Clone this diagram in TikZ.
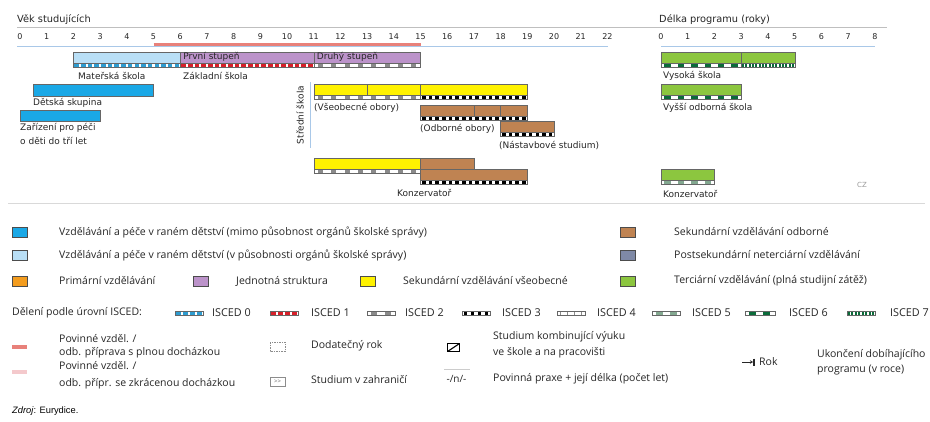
\documentclass[tikz,border=0pt]{standalone}
\usepackage{fontspec}
\setmainfont{DejaVu Sans}
\newfontfamily\legfont{Open Sans}
\newfontfamily\srcfont{Liberation Sans}
\usetikzlibrary{arrows.meta}
\definecolor{ecdark}{HTML}{1AA8E6}
\definecolor{eclight}{HTML}{B9DFF6}
\definecolor{purp}{HTML}{BC93CA}
\definecolor{yel}{HTML}{FFF200}
\definecolor{brn}{HTML}{BF8352}
\definecolor{grn}{HTML}{8CC63F}
\definecolor{orng}{HTML}{F39C1E}
\definecolor{slate}{HTML}{7F89A6}
\definecolor{salmon}{HTML}{E8817A}
\definecolor{pinkl}{HTML}{F4C9CC}
\definecolor{axblue}{HTML}{A9C8E8}
\definecolor{isa}{HTML}{2E9CD0}
\definecolor{isb}{HTML}{D7202A}
\definecolor{isc}{HTML}{8A8A8A}
\definecolor{ise}{HTML}{83A890}
\definecolor{isf}{HTML}{0B6B3A}
\newcommand\ebar[4]{\filldraw[fill=#4, bord] ({#1},#3) rectangle ({#2},#3+11);}
\newcommand\iscedstrip[6]{%
  \pgfmathsetmacro\sxa{#1}\pgfmathsetmacro\sxb{#2}%
  \pgfmathsetmacro\sn{int((\sxb-\sxa)/#5)}%
  \begin{scope}
    \clip (\sxa,#3) rectangle (\sxb,#3+4);
    \fill[white] (\sxa,#3) rectangle (\sxb,#3+4);
    \foreach \k in {0,...,\sn} {\fill[#4] ({\sxa+\k*#5+(#5-#6)/2},#3) rectangle ++(#6,4);}
  \end{scope}
  \draw[bord] (\sxa,#3) rectangle (\sxb,#3+4);}
\begin{document}
\begin{tikzpicture}[x=1pt,y=-1pt,
  declare function={ag(\a)=20+26.7*\a; dl(\a)=661+26.75*\a;},
  bord/.style={draw=black!60, line width=0.4pt},
  lbl/.style={font=\fontsize{9}{10.8}\selectfont, inner sep=0pt, anchor=west, text=black!85},
  tick/.style={font=\fontsize{8}{9.6}\selectfont, inner sep=0pt, text=black!85},
  leg/.style={font=\legfont\fontsize{10.5}{12.6}\selectfont, inner sep=0pt, anchor=west, text=black!85},
  isl/.style={leg, font=\legfont\fontsize{10.8}{13}\selectfont},
  legbox/.style={draw=black!70, line width=0.5pt}]
\fill[white] (0,0) rectangle (930,421);
\useasboundingbox (0,0) rectangle (930,421);
% headers
\node[lbl, font=\fontsize{9.8}{11.8}\selectfont] (hage) at (17,20) {Věk studujících};
\node[lbl, font=\fontsize{9.8}{11.8}\selectfont] (hdur) at (659,20) {Délka programu (roky)};
\draw[black!25, line width=0.5pt] (17,27) -- (887,27);
\foreach \i in {0,...,22} \node[tick] (ta\i) at ({ag(\i)},37) {\i};
\foreach \i in {0,...,8} \node[tick] (tb\i) at ({dl(\i)},37) {\i};
\draw[axblue, line width=0.8pt] (17,46.5) -- (608,46.5);
\draw[salmon, line width=3pt] ({ag(5)},44.5) -- ({ag(15)},44.5);
\draw[axblue, line width=0.8pt] (661,46) -- (875,46);
% row 1
\ebar{ag(2)}{ag(6)}{52}{eclight}
\ebar{ag(6)}{ag(15)}{52}{purp}
\draw[bord] ({ag(11)},52) -- ({ag(11)},63);
\iscedstrip{ag(2)}{ag(6)}{63}{isa}{6.675}{4.6}
\iscedstrip{ag(6)}{ag(11)}{63}{isb}{6.675}{4.6}
\iscedstrip{ag(11)}{ag(15)}{63}{isc}{13.35}{5}
\node[lbl] (pst) at ({ag(6)+3},57) {První stupeň};
\node[lbl] (dst) at ({ag(11)+3},57) {Druhý stupeň};
\node[lbl] (ms) at (78,76) {Mateřská škola};
\node[lbl] (zs) at (183,76) {Základní škola};
\ebar{dl(0)}{dl(5)}{52}{grn}
\draw[bord] ({dl(3)},52) -- ({dl(3)},63);
\iscedstrip{dl(0)}{dl(3)}{63}{isf}{13.375}{6.5}
\iscedstrip{dl(3)}{dl(5)}{63}{isf}{3.34}{2}
\node[lbl] (vs) at (663,76) {Vysoká škola};
% early childhood
\filldraw[fill=ecdark, bord] ({ag(0.5)},84) rectangle ({ag(5)},96);
\node[lbl] (dsk) at (33,103) {Dětská skupina};
\filldraw[fill=ecdark, bord] ({ag(0)},110) rectangle ({ag(3)},121);
\node[lbl] (zp1) at (20,128) {Zařízení pro péči};
\node[lbl] (zp2) at (20,141) {o děti do tří let};
% secondary
\node[lbl, anchor=center, rotate=90] (ss) at (300,115) {Střední škola};
\draw[axblue, line width=0.9pt] (310,82) -- (310,148);
\ebar{ag(11)}{ag(19)}{84}{yel}
\draw[bord] ({ag(13)},84) -- ({ag(13)},95) ({ag(15)},84) -- ({ag(15)},95);
\iscedstrip{ag(11)}{ag(15)}{95}{isc}{13.35}{5}
\iscedstrip{ag(15)}{ag(19)}{95}{black}{6.675}{3.6}
\node[lbl] (vo) at (314,108) {(Všeobecné obory)};
\ebar{ag(15)}{ag(19)}{105}{brn}
\draw[bord] ({ag(17)},105) -- ({ag(17)},116) ({ag(18)},105) -- ({ag(18)},116);
\iscedstrip{ag(15)}{ag(19)}{116}{black}{6.675}{3.6}
\node[lbl] (oo) at (420,129) {(Odborné obory)};
\ebar{ag(18)}{ag(20)}{121}{brn}
\iscedstrip{ag(18)}{ag(20)}{132}{black}{6.675}{3.6}
\node[lbl] (ns) at (499,145) {(Nástavbové studium)};
\ebar{dl(0)}{dl(3)}{84}{grn}
\iscedstrip{dl(0)}{dl(3)}{95}{isf}{13.375}{6.5}
\node[lbl] (vos) at (663,108) {Vyšší odborná škola};
% conservatory
\ebar{ag(11)}{ag(15)}{158}{yel}
\iscedstrip{ag(11)}{ag(15)}{169}{isc}{13.35}{5}
\ebar{ag(15)}{ag(17)}{158}{brn}
\ebar{ag(15)}{ag(19)}{169}{brn}
\iscedstrip{ag(15)}{ag(19)}{180}{black}{6.675}{3.6}
\node[lbl] (kz1) at (397,193) {Konzervatoř};
\ebar{dl(0)}{dl(2)}{169}{grn}
\iscedstrip{dl(0)}{dl(2)}{180}{ise}{13.375}{6.5}
\node[lbl] (kz2) at (663,194) {Konzervatoř};
\node[tick, text=black!40, font=\fontsize{7}{8}\selectfont] (cz) at (862,185) {CZ};
\draw[black!15, line width=0.6pt] (8,203) -- (925,203);
% legend colours
\filldraw[fill=ecdark, legbox] (12,227) rectangle (27,237);
\node[leg] (l1) at (59,232) {Vzdělávání a péče v raném dětství (mimo působnost orgánů školské správy)};
\filldraw[fill=eclight, legbox] (12,250) rectangle (27,260);
\node[leg] (l2) at (59,255) {Vzdělávání a péče v raném dětství (v působnosti orgánů školské správy)};
\filldraw[fill=orng, legbox] (12,276) rectangle (27,286);
\node[leg] (l3) at (59,281) {Primární vzdělávání};
\filldraw[fill=purp, legbox] (193,276) rectangle (208,286);
\node[leg] (l4) at (236,281) {Jednotná struktura};
\filldraw[fill=yel, legbox] (360,276) rectangle (375,286);
\node[leg] (l5) at (403,281) {Sekundární vzdělávání všeobecné};
\filldraw[fill=brn, legbox] (620,227) rectangle (635,237);
\node[leg] (l6) at (674,232) {Sekundární vzdělávání odborné};
\filldraw[fill=slate, legbox] (620,250) rectangle (635,260);
\node[leg] (l7) at (674,255) {Postsekundární neterciární vzdělávání};
\filldraw[fill=grn, legbox] (620,276) rectangle (635,286);
\node[leg] (l8) at (674,281) {Terciární vzdělávání (plná studijní zátěž)};
% ISCED legend
\node[leg] (li) at (12,313) {Dělení podle úrovní ISCED:};
\iscedstrip{175}{203}{311}{isa}{7}{4.6}
\node[isl] (i0) at (212,313) {ISCED 0};
\iscedstrip{270}{298}{311}{isb}{7}{4.6}
\node[isl] (i1) at (311,313) {ISCED 1};
\iscedstrip{367}{395}{311}{isc}{14}{6}
\node[isl] (i2) at (405,313) {ISCED 2};
\iscedstrip{462}{490}{311}{black}{7}{3.8}
\node[isl] (i3) at (502,313) {ISCED 3};
\iscedstrip{557}{585}{311}{isc}{7}{0.8}
\node[isl] (i4) at (597,313) {ISCED 4};
\iscedstrip{652}{680}{311}{ise}{14}{7}
\node[isl] (i5) at (692,313) {ISCED 5};
\iscedstrip{745}{775}{311}{isf}{14}{7}
\node[isl] (i6) at (789,313) {ISCED 6};
\iscedstrip{847}{875}{311}{isf}{3.5}{2}
\node[isl] (i7) at (890,313) {ISCED 7};
% bottom legend
\fill[salmon] (12,345) rectangle (27,349);
\node[leg] (p1) at (59,339) {Povinné vzděl. /};
\node[leg] (p2) at (59,353) {odb. příprava s plnou docházkou};
\fill[pinkl] (12,370) rectangle (27,374);
\node[leg] (p3) at (59,366) {Povinné vzděl. /};
\node[leg] (p4) at (59,384) {odb. přípr. se zkrácenou docházkou};
\draw[black!45, dashed, dash pattern=on 1.5pt off 1pt, line width=0.4pt] (270,342) rectangle (285,351);
\node[leg] (dr) at (311,346) {Dodatečný rok};
\draw[black!45, line width=0.4pt] (270,377) rectangle (285,386);
\node[inner sep=0pt, font=\legfont\fontsize{6}{7}\selectfont, text=black!60] (gg) at (277.5,381.5) {>>};
\node[leg] (sz) at (311,380) {Studium v zahraničí};
\draw[black, line width=1.1pt] (447.5,343.5) rectangle (459.5,351.5);
\draw[black, line width=1.1pt] (447.5,351.5) -- (459.5,343.5);
\node[leg] (sk1) at (493,337) {Studium kombinující výuku};
\node[leg] (sk2) at (493,353) {ve škole a na pracovišti};
\draw[black!20, line width=0.4pt] (444,369) -- (470,369);
\node[inner sep=0pt, font=\legfont\fontsize{10}{11}\selectfont, text=black!85] (pn) at (456.5,378.5) {-/n/-};
\node[leg] (pp) at (493,379) {Povinná praxe + její délka (počet let)};
\coordinate (ra) at (742,362);
\coordinate (rb) at (753,362);
\draw[black!85, line width=0.6pt, -{Stealth[length=3pt,width=3.5pt]}] (ra) -- (rb);
\draw[black!85, line width=1.2pt] (754,358.5) -- (754,365.5);
\node[leg] (rk) at (759,362) {Rok};
\node[leg] (uk1) at (817,355) {Ukončení dobíhajícího};
\node[leg] (uk2) at (817,370) {programu (v roce)};
\node[inner sep=0pt, anchor=west, font=\srcfont\fontsize{9.3}{11}\selectfont] (src) at (12,411) {\textit{Zdroj}: Eurydice.};
\end{tikzpicture}
\end{document}
